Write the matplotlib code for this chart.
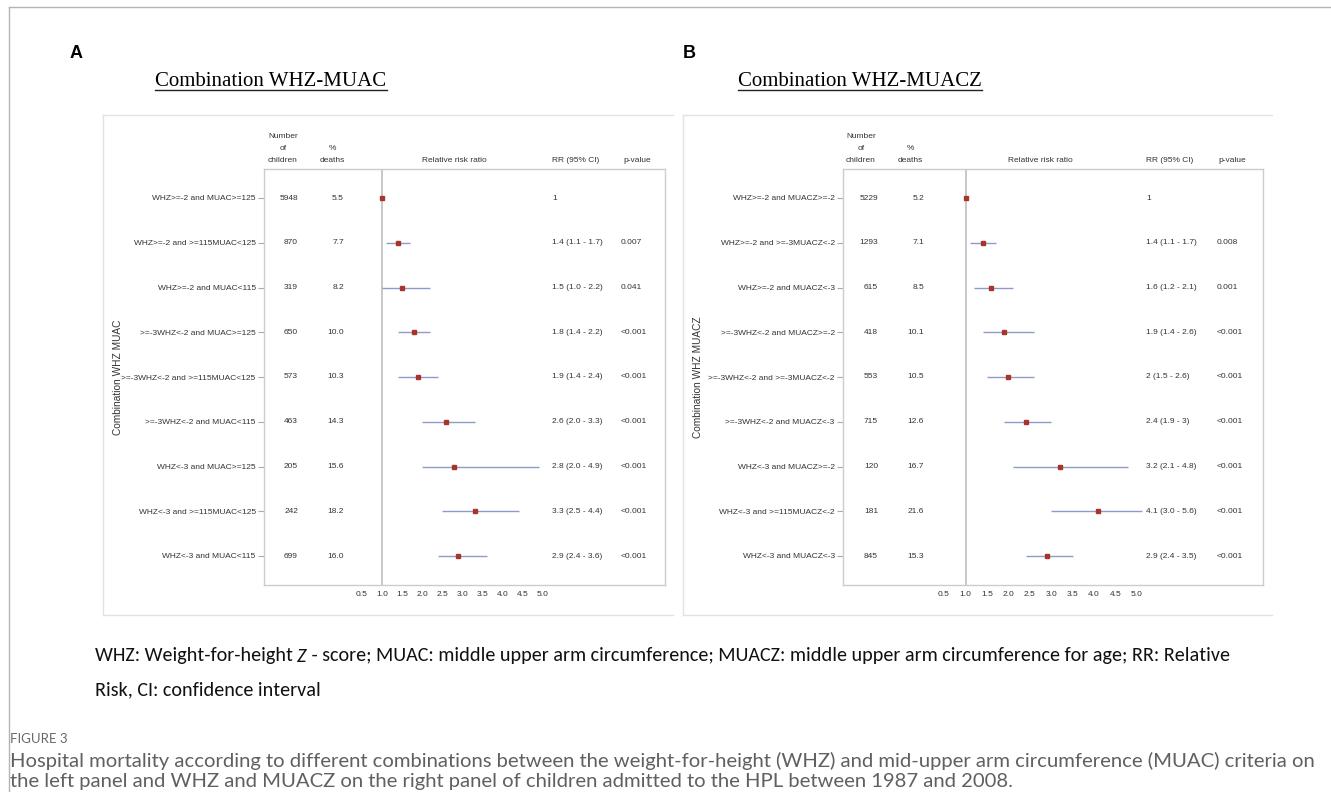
import matplotlib
matplotlib.use('Agg')
import matplotlib.pyplot as plt
from matplotlib import font_manager as fm
from matplotlib import transforms
from matplotlib.lines import Line2D
import numpy as np

# ---------------- data ----------------
labels_a = ["WHZ>=-2 and MUAC>=125", "WHZ>=-2 and >=115MUAC<125", "WHZ>=-2 and MUAC<115",
            ">=-3WHZ<-2 and MUAC>=125", ">=-3WHZ<-2 and >=115MUAC<125", ">=-3WHZ<-2 and MUAC<115",
            "WHZ<-3 and MUAC>=125", "WHZ<-3 and >=115MUAC<125", "WHZ<-3 and MUAC<115"]
n_a = [5948, 870, 319, 650, 573, 463, 205, 242, 699]
pct_a = [5.5, 7.7, 8.2, 10.0, 10.3, 14.3, 15.6, 18.2, 16.0]
rr_a = [1.0, 1.4, 1.5, 1.8, 1.9, 2.6, 2.8, 3.3, 2.9]
lo_a = [np.nan, 1.1, 1.0, 1.4, 1.4, 2.0, 2.0, 2.5, 2.4]
hi_a = [np.nan, 1.7, 2.2, 2.2, 2.4, 3.3, 4.9, 4.4, 3.6]
rrtxt_a = ["1", "1.4 (1.1 - 1.7)", "1.5 (1.0 - 2.2)", "1.8 (1.4 - 2.2)", "1.9 (1.4 - 2.4)",
           "2.6 (2.0 - 3.3)", "2.8 (2.0 - 4.9)", "3.3 (2.5 - 4.4)", "2.9 (2.4 - 3.6)"]
p_a = ["", "0.007", "0.041", "<0.001", "<0.001", "<0.001", "<0.001", "<0.001", "<0.001"]

labels_b = ["WHZ>=-2 and MUACZ>=-2", "WHZ>=-2 and >=-3MUACZ<-2", "WHZ>=-2 and MUACZ<-3",
            ">=-3WHZ<-2 and MUACZ>=-2", ">=-3WHZ<-2 and >=-3MUACZ<-2", ">=-3WHZ<-2 and MUACZ<-3",
            "WHZ<-3 and MUACZ>=-2", "WHZ<-3 and >=115MUACZ<-2", "WHZ<-3 and MUACZ<-3"]
n_b = [5229, 1293, 615, 418, 553, 715, 120, 181, 845]
pct_b = [5.2, 7.1, 8.5, 10.1, 10.5, 12.6, 16.7, 21.6, 15.3]
rr_b = [1.0, 1.4, 1.6, 1.9, 2.0, 2.4, 3.2, 4.1, 2.9]
lo_b = [np.nan, 1.1, 1.2, 1.4, 1.5, 1.9, 2.1, 3.0, 2.4]
hi_b = [np.nan, 1.7, 2.1, 2.6, 2.6, 3.0, 4.8, 5.6, 3.5]
rrtxt_b = ["1", "1.4 (1.1 - 1.7)", "1.6 (1.2 - 2.1)", "1.9 (1.4 - 2.6)", "2 (1.5 - 2.6)",
           "2.4 (1.9 - 3)", "3.2 (2.1 - 4.8)", "4.1 (3.0 - 5.6)", "2.9 (2.4 - 3.5)"]
p_b = ["", "0.008", "0.001", "<0.001", "<0.001", "<0.001", "<0.001", "<0.001", "<0.001"]

xticks = [0.5, 1.0, 1.5, 2.0, 2.5, 3.0, 3.5, 4.0, 4.5, 5.0]

footer1_parts = ["WHZ: Weight-for-height ", "Z",
                 " - score; MUAC: middle upper arm circumference; "
                 "MUACZ: middle upper arm circumference for age; RR: Relative"]
footer2 = "Risk, CI: confidence interval"
fig_label = "FIGURE 3"
caption1 = ("Hospital mortality according to different combinations between the weight-for-height (WHZ) "
            "and mid-upper arm circumference (MUAC) criteria on")
caption2 = ("the left panel and WHZ and MUACZ on the right panel of children admitted to the HPL "
            "between 1987 and 2008.")

# ---------------- layout ----------------
W, H = 1331, 792
fig = plt.figure(figsize=(W / 100, H / 100), dpi=100)
fig.patch.set_facecolor('white')

names = {f.name for f in fm.fontManager.ttflist}
HAS_NARROW = 'Liberation Sans Narrow' in names
if HAS_NARROW:
    SMALL = ['Liberation Sans Narrow', 'DejaVu Sans']
    SFS = 7.3
else:
    SMALL = ['Liberation Sans', 'DejaVu Sans']
    SFS = 6.0
SANS = ['Liberation Sans', 'DejaVu Sans']
SERIF = ['Liberation Serif', 'DejaVu Serif']
BODY = ['Carlito', 'Lato', 'DejaVu Sans'] if 'Carlito' in names else ['Lato', 'DejaVu Sans']
CAPF = ['Liberation Sans Narrow', 'Lato'] if HAS_NARROW else ['Lato', 'DejaVu Sans']
TXT = '#333333'


def fx(px):
    return px / W


def fy(py):
    return 1 - py / H


def fline(x0, y0, x1, y1, color, lw=1.0):
    fig.add_artist(Line2D([fx(x0), fx(x1)], [fy(y0), fy(y1)], transform=fig.transFigure,
                          color=color, lw=lw))


# outer frame
fline(9, 7, W, 7, '#b4b4b4', 1.0)
fline(9, 7, 9, H, '#b4b4b4', 1.0)

AX_T, AX_B = 169, 585
ROW0, ROWSTEP = 198, 44.75


def panel(letter, letter_x, title, title_x, box_l, box_r, ax_l, ax_r, x1_px, x5_px,
          labels, n, pct, rr, lo, hi, rrtxt, pv, ylab, ylab_x,
          num_x, pct_x, numh_x, pcth_x, rrh_x, rr_x, p_x, ph_x):
    fline(box_l, 115, box_r, 115, '#e2e2e2')
    fline(box_l, 115, box_l, 615, '#e2e2e2')
    fline(box_l, 615, box_r, 615, '#e2e2e2')

    fig.text(fx(letter_x), fy(53), letter, ha='center', va='center', fontsize=13,
             fontweight='bold', family=SANS, color='black')
    t = fig.text(fx(title_x), fy(81), title, ha='center', va='center', fontsize=15,
                 family=SERIF, color='black')
    r = fig.canvas.get_renderer()
    bb = t.get_window_extent(r)
    fline(bb.x0, 89.5, bb.x1, 89.5, '#222222', 1.0)

    ax = fig.add_axes([fx(ax_l), fy(AX_B), (ax_r - ax_l) / W, (AX_B - AX_T) / H])
    unit = (x5_px - x1_px) / 4.0
    ax.set_xlim(1 + (ax_l - x1_px) / unit, 1 + (ax_r - x1_px) / unit)
    nrow = len(labels)
    top_row = (AX_T - ROW0) / ROWSTEP
    ax.set_ylim(nrow - 1 - top_row, top_row)
    y = np.arange(nrow)
    for s in ax.spines.values():
        s.set_color('#cccccc')
        s.set_linewidth(1.0)
    ax.axvline(1.0, color='#bfbfbf', lw=1.2, zorder=1)
    forest_max = xticks[-1] + 0.12
    ax.hlines(y, lo, np.minimum(hi, forest_max), color='#8f9bcb', lw=1.0, zorder=2)
    ax.plot(rr, y, 's', ms=3.4, color='#a8352c', mec='#a8352c', zorder=3)

    ax.set_yticks(y)
    ax.set_yticklabels(labels, fontsize=SFS, family=SMALL, color=TXT)
    ax.tick_params(axis='y', length=4, width=0.8, color='#aaaaaa', pad=2)
    ax.set_xticks(xticks)
    ax.set_xticklabels([f"{v:.1f}" for v in xticks], fontsize=SFS, family=SMALL, color=TXT)
    ax.tick_params(axis='x', length=0, pad=4)

    tr = transforms.blended_transform_factory(fig.transFigure, ax.transData)
    for i in range(nrow):
        ax.text(fx(num_x), y[i], f"{n[i]}", transform=tr, ha='right', va='center',
                fontsize=SFS, family=SMALL, color=TXT)
        ax.text(fx(pct_x), y[i], f"{pct[i]:.1f}", transform=tr, ha='right', va='center',
                fontsize=SFS, family=SMALL, color=TXT)
        ax.text(fx(rr_x), y[i], rrtxt[i], transform=tr, ha='left', va='center',
                fontsize=SFS, family=SMALL, color=TXT)
        ax.text(fx(p_x), y[i], pv[i], transform=tr, ha='left', va='center',
                fontsize=SFS, family=SMALL, color=TXT)

    for txt, yy in (("Number", 137), ("of", 149), ("children", 160)):
        fig.text(fx(numh_x), fy(yy), txt, ha='center', va='center', fontsize=SFS,
                 family=SMALL, color=TXT)
    for txt, yy in (("%", 149), ("deaths", 160)):
        fig.text(fx(pcth_x), fy(yy), txt, ha='center', va='center', fontsize=SFS,
                 family=SMALL, color=TXT)
    fig.text(fx(rrh_x), fy(160), "Relative risk ratio", ha='center', va='center',
             fontsize=SFS, family=SMALL, color=TXT)
    fig.text(fx(rr_x), fy(160), "RR (95% CI)", ha='left', va='center',
             fontsize=SFS, family=SMALL, color=TXT)
    fig.text(fx(ph_x), fy(160), "p-value", ha='left', va='center',
             fontsize=SFS, family=SMALL, color=TXT)
    fig.text(fx(ylab_x), fy((AX_T + AX_B) / 2), ylab, rotation=90, ha='center', va='center',
             fontsize=7.3, family=SANS, color=TXT)
    return ax


panel("A", 76, "Combination WHZ-MUAC", 271, 103, 673, 264, 665, 382, 543,
      labels_a, n_a, pct_a, rr_a, lo_a, hi_a, rrtxt_a, p_a, "Combination WHZ MUAC", 118,
      num_x=298, pct_x=344, numh_x=283, pcth_x=332, rrh_x=454, rr_x=552, p_x=621, ph_x=623)
panel("B", 689, "Combination WHZ-MUACZ", 860, 683, 1272, 843, 1263, 965.5, 1137,
      labels_b, n_b, pct_b, rr_b, lo_b, hi_b, rrtxt_b, p_b, "Combination WHZ MUACZ", 698,
      num_x=878, pct_x=924, numh_x=861, pcth_x=910, rrh_x=1040, rr_x=1146, p_x=1217, ph_x=1218)

# ---------------- footer ----------------
r = fig.canvas.get_renderer()
FOOT_X, FOOT_Y1, FOOT_Y2 = 95, 656, 690
FOOT_W = 1130


def make_parts(fs):
    arts = []
    x = FOOT_X
    for k, s in enumerate(footer1_parts):
        t = fig.text(fx(x), fy(FOOT_Y1), s, ha='left', va='center', fontsize=fs, family=BODY,
                     color='#111111', style='italic' if k == 1 else 'normal')
        w = t.get_window_extent(r).width
        arts.append(t)
        x += w
    return arts, x - FOOT_X


arts, tw = make_parts(13)
fs1 = 13 * FOOT_W / tw
for a in arts:
    a.remove()
arts, tw = make_parts(fs1)

fig.text(fx(FOOT_X), fy(FOOT_Y2), footer2, ha='left', va='center', fontsize=fs1, family=BODY,
         color='#111111')
fig.text(fx(10), fy(739), fig_label, ha='left', va='center', fontsize=9.5, family=CAPF,
         color='#6a6a6a')


def fit_text(x, y, s, target_w, base_fs, **kw):
    t = fig.text(fx(x), fy(y), s, ha='left', va='center', fontsize=base_fs, **kw)
    w = t.get_window_extent(r).width
    fs = base_fs * target_w / w
    t.set_fontsize(fs)
    return fs


fs2 = fit_text(10, 761, caption1, 1300, 12, family=CAPF, color='#606060')
fig.text(fx(10), fy(782), caption2, ha='left', va='center', fontsize=fs2, family=CAPF,
         color='#606060')

fig.savefig('out.png', dpi=100, facecolor='white')
